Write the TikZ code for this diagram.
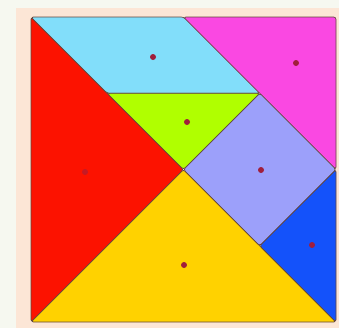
\documentclass[tikz,border=0pt]{standalone}
\usepackage{tikz}
\definecolor{sidebg}{RGB}{246,248,240}
\definecolor{board}{RGB}{252,230,214}
\definecolor{edgec}{RGB}{100,70,60}
\definecolor{pinc}{RGB}{160,30,60}
\definecolor{tred}{RGB}{252,18,0}
\definecolor{tcyan}{RGB}{130,222,250}
\definecolor{tlime}{RGB}{176,255,0}
\definecolor{tpink}{RGB}{250,72,226}
\definecolor{tlav}{RGB}{156,160,250}
\definecolor{tblue}{RGB}{20,82,250}
\definecolor{tyell}{RGB}{255,210,0}

\begin{document}
\begin{tikzpicture}[x=0.3mm, y=-0.3mm,
    piece/.style={draw=edgec, line width=0.6pt, line join=round, rounded corners=2pt},
    pin/.style={circle, fill=pinc, inner sep=0pt, minimum size=1.8mm}]
  \useasboundingbox (0,0) rectangle (339,328);
  % background and board
  \fill[sidebg] (0,0) rectangle (339,328);
  \fill[board] (16,8) rectangle (339,328);
  % corners of the square and the points inside it
  \coordinate (tl) at (31,17);      \coordinate (tr) at (336,17);
  \coordinate (bl) at (31,322);     \coordinate (br) at (336,322);
  \coordinate (tm) at (183.5,17);   \coordinate (ctr) at (183.5,169.5);
  \coordinate (rm) at (336,169.5);
  \coordinate (qa) at (107.25,93.25); \coordinate (qb) at (259.75,93.25);
  \coordinate (qc) at (259.75,245.75);
  % the seven pieces
  \filldraw[piece, fill=tred]  (tl) -- (ctr) -- (bl) -- cycle;
  \filldraw[piece, fill=tyell] (bl) -- (ctr) -- (br) -- cycle;
  \filldraw[piece, fill=tcyan] (tl) -- (tm) -- (qb) -- (qa) -- cycle;
  \filldraw[piece, fill=tlime] (qa) -- (qb) -- (ctr) -- cycle;
  \filldraw[piece, fill=tpink] (tm) -- (tr) -- (rm) -- cycle;
  \filldraw[piece, fill=tlav]  (qb) -- (rm) -- (qc) -- (ctr) -- cycle;
  \filldraw[piece, fill=tblue] (rm) -- (br) -- (qc) -- cycle;
  % pins
  \node[pin] (pincyan) at (153,57) {};
  \node[pin] (pinpink) at (296,63) {};
  \node[pin] (pinlime) at (187,122) {};
  \node[pin, fill=pinc!60!tred] (pinred) at (85,172) {};
  \node[pin] (pinlav) at (261,170) {};
  \node[pin] (pinblue) at (312,245) {};
  \node[pin] (pinyell) at (184,265) {};
\end{tikzpicture}
\end{document}
